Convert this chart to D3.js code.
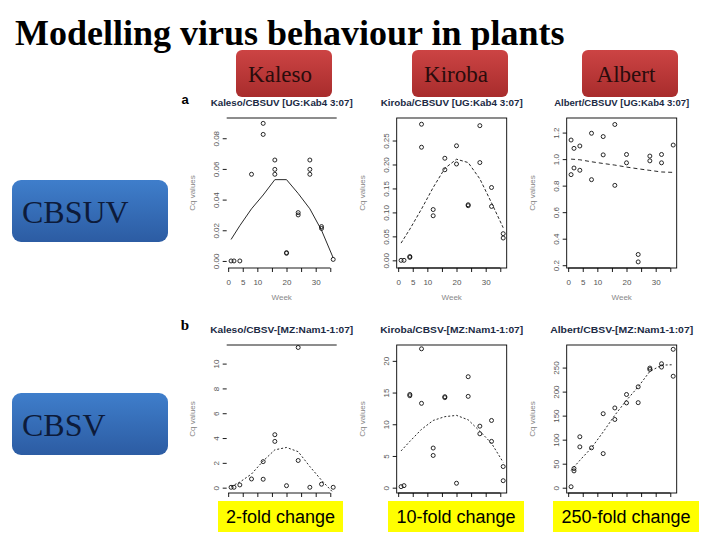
<!DOCTYPE html>
<html>
<head>
<meta charset="utf-8">
<script src="https://d3js.org/d3.v7.min.js"></script>
<style>
body { margin: 0; background: #fff; }
svg { display: block; }
</style>
</head>
<body>
<div id="mainDiv"></div>
<script>
'use strict';

var myApp = {};

// ---- data ----
var slideTitle = "Modelling virus behaviour in plants";
var cultivars = ["Kaleso", "Kiroba", "Albert"];
var viruses = ["CBSUV", "CBSV"];
var foldLabels = ["2-fold change", "10-fold change", "250-fold change"];
var panelTitles = [
    "Kaleso/CBSUV [UG:Kab4 3:07]", "Kiroba/CBSUV [UG:Kab4 3:07]", "Albert/CBSUV [UG:Kab4 3:07]",
    "Kaleso/CBSV-[MZ:Nam1-1:07]", "Kiroba/CBSV-[MZ:Nam1-1:07]", "Albert/CBSV-[MZ:Nam1-1:07]"
];

var xTicks = [0, 5, 10, 15, 20, 25, 30, 35];
var xTickLabels = [0, 5, 10, 20, 30];
var fitWeeks = [1, 4, 8, 12, 16, 20, 24, 28, 32, 36];

// [week, Cq value]
var kalesoCbsuv = [[1,0],[2,0],[4,0],[8,0.0565],[12,0.0897],[12,0.0825],[16,0.0658],[16,0.0597],[16,0.0565],
    [20,0.0054],[20,0.0050],[24,0.0315],[24,0.030],[28,0.0658],[28,0.0597],[28,0.0565],[32,0.0224],[32,0.0212],[36,0.001]];
var kirobaCbsuv = [[1,0],[2,0],[4,0.008],[4,0.006],[8,0.284],[8,0.236],[12,0.106],[12,0.093],[16,0.213],[16,0.189],
    [20,0.239],[20,0.201],[24,0.116],[24,0.114],[28,0.281],[28,0.204],[32,0.152],[32,0.1125],[36,0.0556],[36,0.0466]];
var albertCbsuv = [[1,1.144],[1,0.883],[2,1.081],[2,0.933],[4,1.099],[4,0.916],[8,1.195],[8,0.845],[12,1.170],[12,1.032],
    [16,1.261],[16,0.802],[20,1.035],[20,0.972],[24,0.281],[24,0.225],[28,1.023],[28,0.987],[32,1.035],[32,0.972],[36,1.106]];
var kalesoCbsv = [[1,0.03],[2,0.03],[4,0.22],[8,0.7],[12,2.1],[12,0.68],[16,4.27],[16,3.73],[20,0.16],[24,11.3],[24,2.19],
    [28,0.03],[32,0.28],[36,0.03]];
var kirobaCbsv = [[1,0.16],[2,0.32],[4,14.7],[4,14.5],[8,21.9],[8,13.3],[12,6.25],[12,5.08],[16,14.35],[16,14.2],[20,0.7],
    [24,17.5],[24,14.4],[28,9.7],[28,8.5],[32,10.6],[32,7.3],[36,3.33],[36,1.1]];
var albertCbsv = [[1,2],[2,40],[2,35],[4,106],[4,85],[8,83],[12,154],[12,71],[16,166],[16,142],[20,194],[20,176.5],
    [24,210],[24,177],[28,249],[28,246],[32,258],[32,251],[36,288],[36,232]];

// smoothed trend, one value per fitWeeks entry
var kalesoCbsuvFit = [0.014, 0.023, 0.034, 0.043, 0.053, 0.053, 0.044, 0.034, 0.020, 0.002];
var kirobaCbsuvFit = [0.036, 0.065, 0.107, 0.152, 0.192, 0.211, 0.204, 0.170, 0.120, 0.068];
var albertCbsuvFit = [1.0, 0.995, 0.98, 0.967, 0.955, 0.94, 0.927, 0.915, 0.903, 0.9];
var kalesoCbsvFit = [0.1, 0.45, 1.1, 2.15, 3.05, 3.24, 2.9, 1.7, 0.6, -0.4];
var kirobaCbsvFit = [5.8, 7.3, 9.2, 10.6, 11.2, 11.4, 10.7, 8.9, 7.0, 4.0];
var albertCbsvFit = [36, 57, 83, 116, 151, 182, 210, 242, 255, 256];

var yTicksA1 = [0, 0.02, 0.04, 0.06, 0.08];
var yTicksA2 = [0, 0.05, 0.10, 0.15, 0.20, 0.25];
var yTicksA3 = [0.2, 0.4, 0.6, 0.8, 1.0, 1.2];
var yTicksB1 = [0, 2, 4, 6, 8, 10];
var yTicksB2 = [0, 5, 10, 15, 20];
var yTicksB3 = [0, 50, 100, 150, 200, 250];

// ---- layout ----
// row b x labels sit under the yellow notes on the slide, so they are left out
myApp.xDomain = [-0.5, 37.2];
myApp.panels = [
    { left: 226.7, top: 118, w: 110, h: 150, yDomain: [-0.0046, 0.0932], yTicks: yTicksA1, fmt: ".2f", pts: kalesoCbsuv, fit: kalesoCbsuvFit, frame: false, dash: null,  tl: 142, xLab: true },
    { left: 396.7, top: 118, w: 110, h: 150, yDomain: [-0.016, 0.297],   yTicks: yTicksA2, fmt: ".2f", pts: kirobaCbsuv, fit: kirobaCbsuvFit, frame: true,  dash: "3,2", tl: 142, xLab: true },
    { left: 566.7, top: 118, w: 110, h: 150, yDomain: [0.179, 1.31],     yTicks: yTicksA3, fmt: ".1f", pts: albertCbsuv, fit: albertCbsuvFit, frame: true,  dash: "4,3", tl: 135, xLab: true },
    { left: 226.7, top: 345, w: 110, h: 148, yDomain: [-0.43, 11.5],     yTicks: yTicksB1, fmt: "d",   pts: kalesoCbsv,  fit: kalesoCbsvFit,  frame: false, dash: "2,2", tl: 143, xLab: false },
    { left: 396.7, top: 345, w: 110, h: 148, yDomain: [-0.84, 22.5],     yTicks: yTicksB2, fmt: "d",   pts: kirobaCbsv,  fit: kirobaCbsvFit,  frame: true,  dash: "2,2", tl: 143, xLab: false },
    { left: 566.7, top: 345, w: 110, h: 148, yDomain: [-11, 297],        yTicks: yTicksB3, fmt: "d",   pts: albertCbsv,  fit: albertCbsvFit,  frame: true,  dash: "2,2", tl: 143, xLab: false }
];

myApp.appendSvg = function(element, w, h)
{
    var node = d3.select(element).append("svg")
        .attr("width", w)
        .attr("height", h);
    node.append("rect").attr("width", w).attr("height", h).attr("fill", "#fff");
    return node;
}

myApp.addGradient = function(defs, id, top, bottom)
{
    var g = defs.append("linearGradient").attr("id", id)
        .attr("x1", 0).attr("y1", 0).attr("x2", 0).attr("y2", 1);
    g.append("stop").attr("offset", "0%").attr("stop-color", top);
    g.append("stop").attr("offset", "100%").attr("stop-color", bottom);
}

myApp.drawPanel = function(svg, cfg, title)
{
    var x = d3.scaleLinear().domain(myApp.xDomain).range([cfg.left, cfg.left + cfg.w]);
    var y = d3.scaleLinear().domain(cfg.yDomain).range([cfg.top + cfg.h, cfg.top]);
    var bottom = cfg.top + cfg.h;
    var g = svg.append("g");

    if (cfg.frame) {
        g.append("rect")
            .attr("x", cfg.left).attr("y", cfg.top)
            .attr("width", cfg.w).attr("height", cfg.h)
            .attr("fill", "none").attr("stroke", "#000").attr("stroke-width", 0.9);
    } else {
        g.append("line")
            .attr("x1", cfg.left).attr("x2", cfg.left + cfg.w)
            .attr("y1", cfg.top).attr("y2", cfg.top)
            .attr("stroke", "#000").attr("stroke-width", 0.9);
    }

    // x axis
    var xAxis = d3.axisBottom(x).tickValues(xTicks).tickSize(4).tickSizeOuter(0)
        .tickFormat(function(d) { return cfg.xLab && xTickLabels.indexOf(d) >= 0 ? d : ""; });
    var gx = g.append("g").attr("transform", "translate(0," + bottom + ")").call(xAxis)
        .attr("font-family", "'Liberation Sans', Arial, sans-serif").attr("font-size", 8);
    gx.select(".domain").remove();
    gx.append("line")
        .attr("x1", x(xTicks[0])).attr("x2", x(xTicks[xTicks.length - 1]))
        .attr("stroke", "#000").attr("stroke-width", 0.9);
    gx.selectAll(".tick line").attr("stroke", "#000").attr("stroke-width", 0.9);
    gx.selectAll(".tick text").attr("y", 11).attr("fill", "#555");
    if (!cfg.xLab) gx.selectAll(".tick text").remove();

    if (cfg.xLab) {
        g.append("text")
            .attr("x", cfg.left + cfg.w / 2).attr("y", bottom + 32)
            .attr("text-anchor", "middle")
            .attr("font-family", "'Liberation Sans', Arial, sans-serif").attr("font-size", 8)
            .attr("fill", "#888")
            .text("Week");
    }

    // y axis
    var yAxis = d3.axisLeft(y).tickValues(cfg.yTicks).tickSize(4).tickSizeOuter(0)
        .tickFormat(d3.format(cfg.fmt));
    var gy = g.append("g").attr("transform", "translate(" + cfg.left + ",0)").call(yAxis)
        .attr("font-family", "'Liberation Sans', Arial, sans-serif").attr("font-size", 8);
    gy.select(".domain").remove();
    gy.selectAll(".tick line").attr("stroke", "#000").attr("stroke-width", 0.9);
    gy.selectAll(".tick text")
        .attr("transform", "rotate(-90)")
        .attr("x", 0).attr("y", -8).attr("dy", 0)
        .attr("text-anchor", "middle")
        .attr("fill", "#555");

    g.append("text")
        .attr("transform", "translate(" + (cfg.left - 32) + "," + (cfg.top + cfg.h / 2) + ") rotate(-90)")
        .attr("text-anchor", "middle")
        .attr("font-family", "'Liberation Sans', Arial, sans-serif").attr("font-size", 8)
        .attr("fill", "#888")
        .text("Cq values");

    // trend line
    var line = d3.line()
        .x(function(d, i) { return x(fitWeeks[i]); })
        .y(function(d) { return y(d); });
    g.append("path")
        .datum(cfg.fit)
        .attr("d", line)
        .attr("fill", "none")
        .attr("stroke", "#111")
        .attr("stroke-width", 0.9)
        .attr("stroke-dasharray", cfg.dash);

    // points
    g.selectAll("circle.pt")
        .data(cfg.pts)
        .enter()
        .append("circle")
            .attr("class", "pt")
            .attr("cx", function(d) { return x(d[0]); })
            .attr("cy", function(d) { return y(d[1]); })
            .attr("r", 2)
            .attr("fill", "none")
            .attr("stroke", "#111")
            .attr("stroke-width", 0.9);

    // panel title
    g.append("text")
        .attr("x", cfg.left + cfg.w / 2).attr("y", cfg.top - 12)
        .attr("text-anchor", "middle")
        .attr("font-family", "'Liberation Sans', Arial, sans-serif")
        .attr("font-size", 9).attr("font-weight", "bold")
        .attr("fill", "#202a44")
        .attr("textLength", cfg.tl).attr("lengthAdjust", "spacingAndGlyphs")
        .text(title);
}

myApp.run = function()
{
    var svg = myApp.appendSvg("#mainDiv", 720, 540);
    var defs = svg.append("defs");
    myApp.addGradient(defs, "redGrad", "#cc4444", "#a82c2c");
    myApp.addGradient(defs, "blueGrad", "#3f7ecb", "#2c5ca3");

    svg.append("text")
        .attr("x", 15).attr("y", 45)
        .attr("font-family", "'Liberation Serif', 'Times New Roman', serif")
        .attr("font-size", 36).attr("font-weight", "bold")
        .attr("fill", "#000")
        .text(slideTitle);

    // cultivar headers
    var redX = [236, 412, 582];
    svg.selectAll("rect.cult").data(cultivars).enter().append("rect")
        .attr("class", "cult")
        .attr("x", function(d, i) { return redX[i]; }).attr("y", 50)
        .attr("width", 96).attr("height", 47).attr("rx", 6)
        .attr("fill", "url(#redGrad)");
    svg.selectAll("text.cult").data(cultivars).enter().append("text")
        .attr("class", "cult")
        .attr("x", function(d, i) { return redX[i] + 44; }).attr("y", 82)
        .attr("text-anchor", "middle")
        .attr("font-family", "'Liberation Serif', 'Times New Roman', serif")
        .attr("font-size", 23).attr("fill", "#2a0c0c")
        .text(function(d) { return d; });

    // virus labels
    var blueY = [180, 393];
    svg.selectAll("rect.virus").data(viruses).enter().append("rect")
        .attr("class", "virus")
        .attr("x", 12).attr("y", function(d, i) { return blueY[i]; })
        .attr("width", 156).attr("height", 62).attr("rx", 9)
        .attr("fill", "url(#blueGrad)");
    svg.selectAll("text.virus").data(viruses).enter().append("text")
        .attr("class", "virus")
        .attr("x", 22).attr("y", function(d, i) { return blueY[i] + 43; })
        .attr("font-family", "'Liberation Serif', 'Times New Roman', serif")
        .attr("font-size", 32).attr("fill", "#0d1b3a")
        .text(function(d) { return d; });

    for (var i = 0; i < myApp.panels.length; i++) {
        myApp.drawPanel(svg, myApp.panels[i], panelTitles[i]);
    }

    svg.append("text").attr("x", 185).attr("y", 104).attr("text-anchor", "middle")
        .attr("font-family", "'Liberation Sans', Arial, sans-serif").attr("font-weight", "bold")
        .attr("font-size", 13).text("a");
    svg.append("text").attr("x", 185).attr("y", 330).attr("text-anchor", "middle")
        .attr("font-family", "'Liberation Serif', serif").attr("font-weight", "bold")
        .attr("font-size", 15).text("b");

    // fold-change notes
    var yelX = [218, 388, 553];
    var yelW = [125, 136, 146];
    svg.selectAll("rect.fold").data(foldLabels).enter().append("rect")
        .attr("class", "fold")
        .attr("x", function(d, i) { return yelX[i]; }).attr("y", 501)
        .attr("width", function(d, i) { return yelW[i]; }).attr("height", 31)
        .attr("fill", "#ffff00");
    svg.selectAll("text.fold").data(foldLabels).enter().append("text")
        .attr("class", "fold")
        .attr("x", function(d, i) { return yelX[i] + yelW[i] / 2; }).attr("y", 523)
        .attr("text-anchor", "middle")
        .attr("font-family", "'Liberation Sans', Arial, sans-serif")
        .attr("font-size", 18).attr("fill", "#000")
        .text(function(d) { return d; });
}

window.onload = myApp.run;
</script>
</body>
</html>
